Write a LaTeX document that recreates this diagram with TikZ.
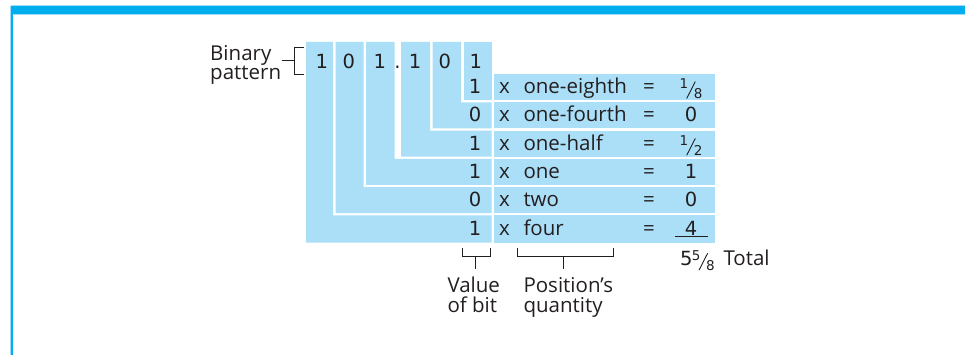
\documentclass[tikz,border=0pt]{standalone}
\usepackage{fontspec}
\setmainfont{Open Sans}
\newfontfamily\digf{DejaVu Sans}
\definecolor{framec}{RGB}{0,174,239}
\definecolor{framelt}{RGB}{160,222,247}
\definecolor{boxfill}{RGB}{171,223,248}
\definecolor{ink}{RGB}{35,31,32}
\newcommand\slfrac[2]{{\digf\raisebox{4.5pt}{\fontsize{13.5}{13.5}\selectfont #1}\kern-1.8pt\raisebox{-5pt}{\rotatebox{-27}{\color{ink}\rule{0.9pt}{19pt}}}\kern-1.8pt\raisebox{-5pt}{\fontsize{13.5}{13.5}\selectfont #2}}}
\begin{document}
\begin{tikzpicture}[x=1pt,y=-1pt,
  txt/.style={font=\fontsize{20.5}{20}\selectfont, text=ink, inner sep=0pt},
  dig/.style={font=\digf\fontsize{19.5}{19.5}\selectfont, text=ink, inner sep=0pt},
  blu/.style={fill=boxfill, draw=none},
  brk/.style={draw=ink, line width=1pt}]
\useasboundingbox (0,0) rectangle (965,355);
% frame
\fill[framelt] (10.5,5.5) rectangle (965,15.2);
\fill[framec] (11,6.5) rectangle (965,14.3);
\fill[framelt] (10.3,6) rectangle (13.2,355);
\fill[framec] (10.8,6) rectangle (12.5,355);
% L-shaped bit regions
\fill[blu] (306,42) -- (333,42) -- (333,215.4) -- (491.5,215.4) -- (491.5,242.6) -- (306,242.6) -- cycle;
\fill[blu] (335.5,42) -- (363.5,42) -- (363.5,187.1) -- (491.5,187.1) -- (491.5,213.1) -- (335.5,213.1) -- cycle;
\fill[blu] (366,42) -- (394.5,42) -- (394.5,158.8) -- (491.5,158.8) -- (491.5,184.8) -- (366,184.8) -- cycle;
\fill[blu] (401,42) -- (430,42) -- (430,130.6) -- (491.5,130.6) -- (491.5,156.6) -- (401,156.6) -- cycle;
\fill[blu] (432.5,42) -- (461,42) -- (461,102.3) -- (491.5,102.3) -- (491.5,128.3) -- (432.5,128.3) -- cycle;
\fill[blu] (463.5,42) rectangle (491.5,100);
% right rows
\fill[blu] (494,74) rectangle (715,100);
\fill[blu] (494,102.3) rectangle (715,128.3);
\fill[blu] (494,130.6) rectangle (715,156.6);
\fill[blu] (494,158.8) rectangle (715,184.8);
\fill[blu] (494,187.1) rectangle (715,213.1);
\fill[blu] (494,215.4) rectangle (715,242.6);
% binary pattern label
\node[txt, anchor=base west] (bin1) at (210,60.7) {Binary};
\node[txt, anchor=base west] (bin2) at (210,80) {pattern};
\coordinate (bt) at (281.7,60.7);
\coordinate (bv) at (294.3,60.7);
\draw[brk] (bt) -- (bv);
\draw[brk] (304,47.3) -- (294.3,47.3) -- (294.3,74.3) -- (304,74.3);
% top digits
\node[dig, anchor=base] (d1) at (321.7,68.3) {1};
\node[dig, anchor=base] (d2) at (348.7,68.3) {0};
\node[dig, anchor=base] (d3) at (379.7,68.3) {1};
\node[dig, anchor=base] (dp) at (397.5,68.3) {.};
\node[dig, anchor=base] (d4) at (415,68.3) {1};
\node[dig, anchor=base] (d5) at (444.7,68.3) {0};
\node[dig, anchor=base] (d6) at (475.7,68.3) {1};
% rows
\foreach \y/\b/\w/\v [count=\i] in {93.3/1/one-eighth/{\slfrac{1}{8}}, 121.7/0/one-fourth/0, 150.1/1/one-half/{\slfrac{1}{2}}, 178.5/1/one/1, 206.9/0/two/0, 235.3/1/four/4}{
  \node[dig, anchor=base] (rb\i) at (475,\y) {\b};
  \node[txt, anchor=base] (rx\i) at (504.5,\y) {x};
  \node[txt, anchor=base west] (rw\i) at (523.3,\y) {\w};
  \node[txt, anchor=base] (re\i) at (649,\y) {=};
  \node[dig, anchor=base] (rv\i) at (691,\y) {\v};
}
\draw[draw=ink, line width=1pt] (675,236.8) -- (708,236.8);
% total
\node[dig, anchor=base west] (tot) at (680,265) {5\kern-0.8pt\slfrac{5}{8}};
\node[txt, anchor=base west] (totl) at (723.3,265) {Total};
% bottom brackets
\draw[brk] (462.7,248.3) -- (462.7,256) -- (490,256) -- (490,248.3);
\draw[brk] (475.7,256) -- (475.7,269.3);
\draw[brk] (517.3,248.3) -- (517.3,256) -- (613.3,256) -- (613.3,248.3);
\draw[brk] (563.3,256) -- (563.3,269.3);
\node[txt, anchor=base west] (vb1) at (447.3,292.3) {Value};
\node[txt, anchor=base west] (vb2) at (447.3,312.5) {of bit};
\node[txt, anchor=base west] (pq1) at (523.3,292.3) {Position’s};
\node[txt, anchor=base west] (pq2) at (523.3,312) {quantity};
\end{tikzpicture}
\end{document}
